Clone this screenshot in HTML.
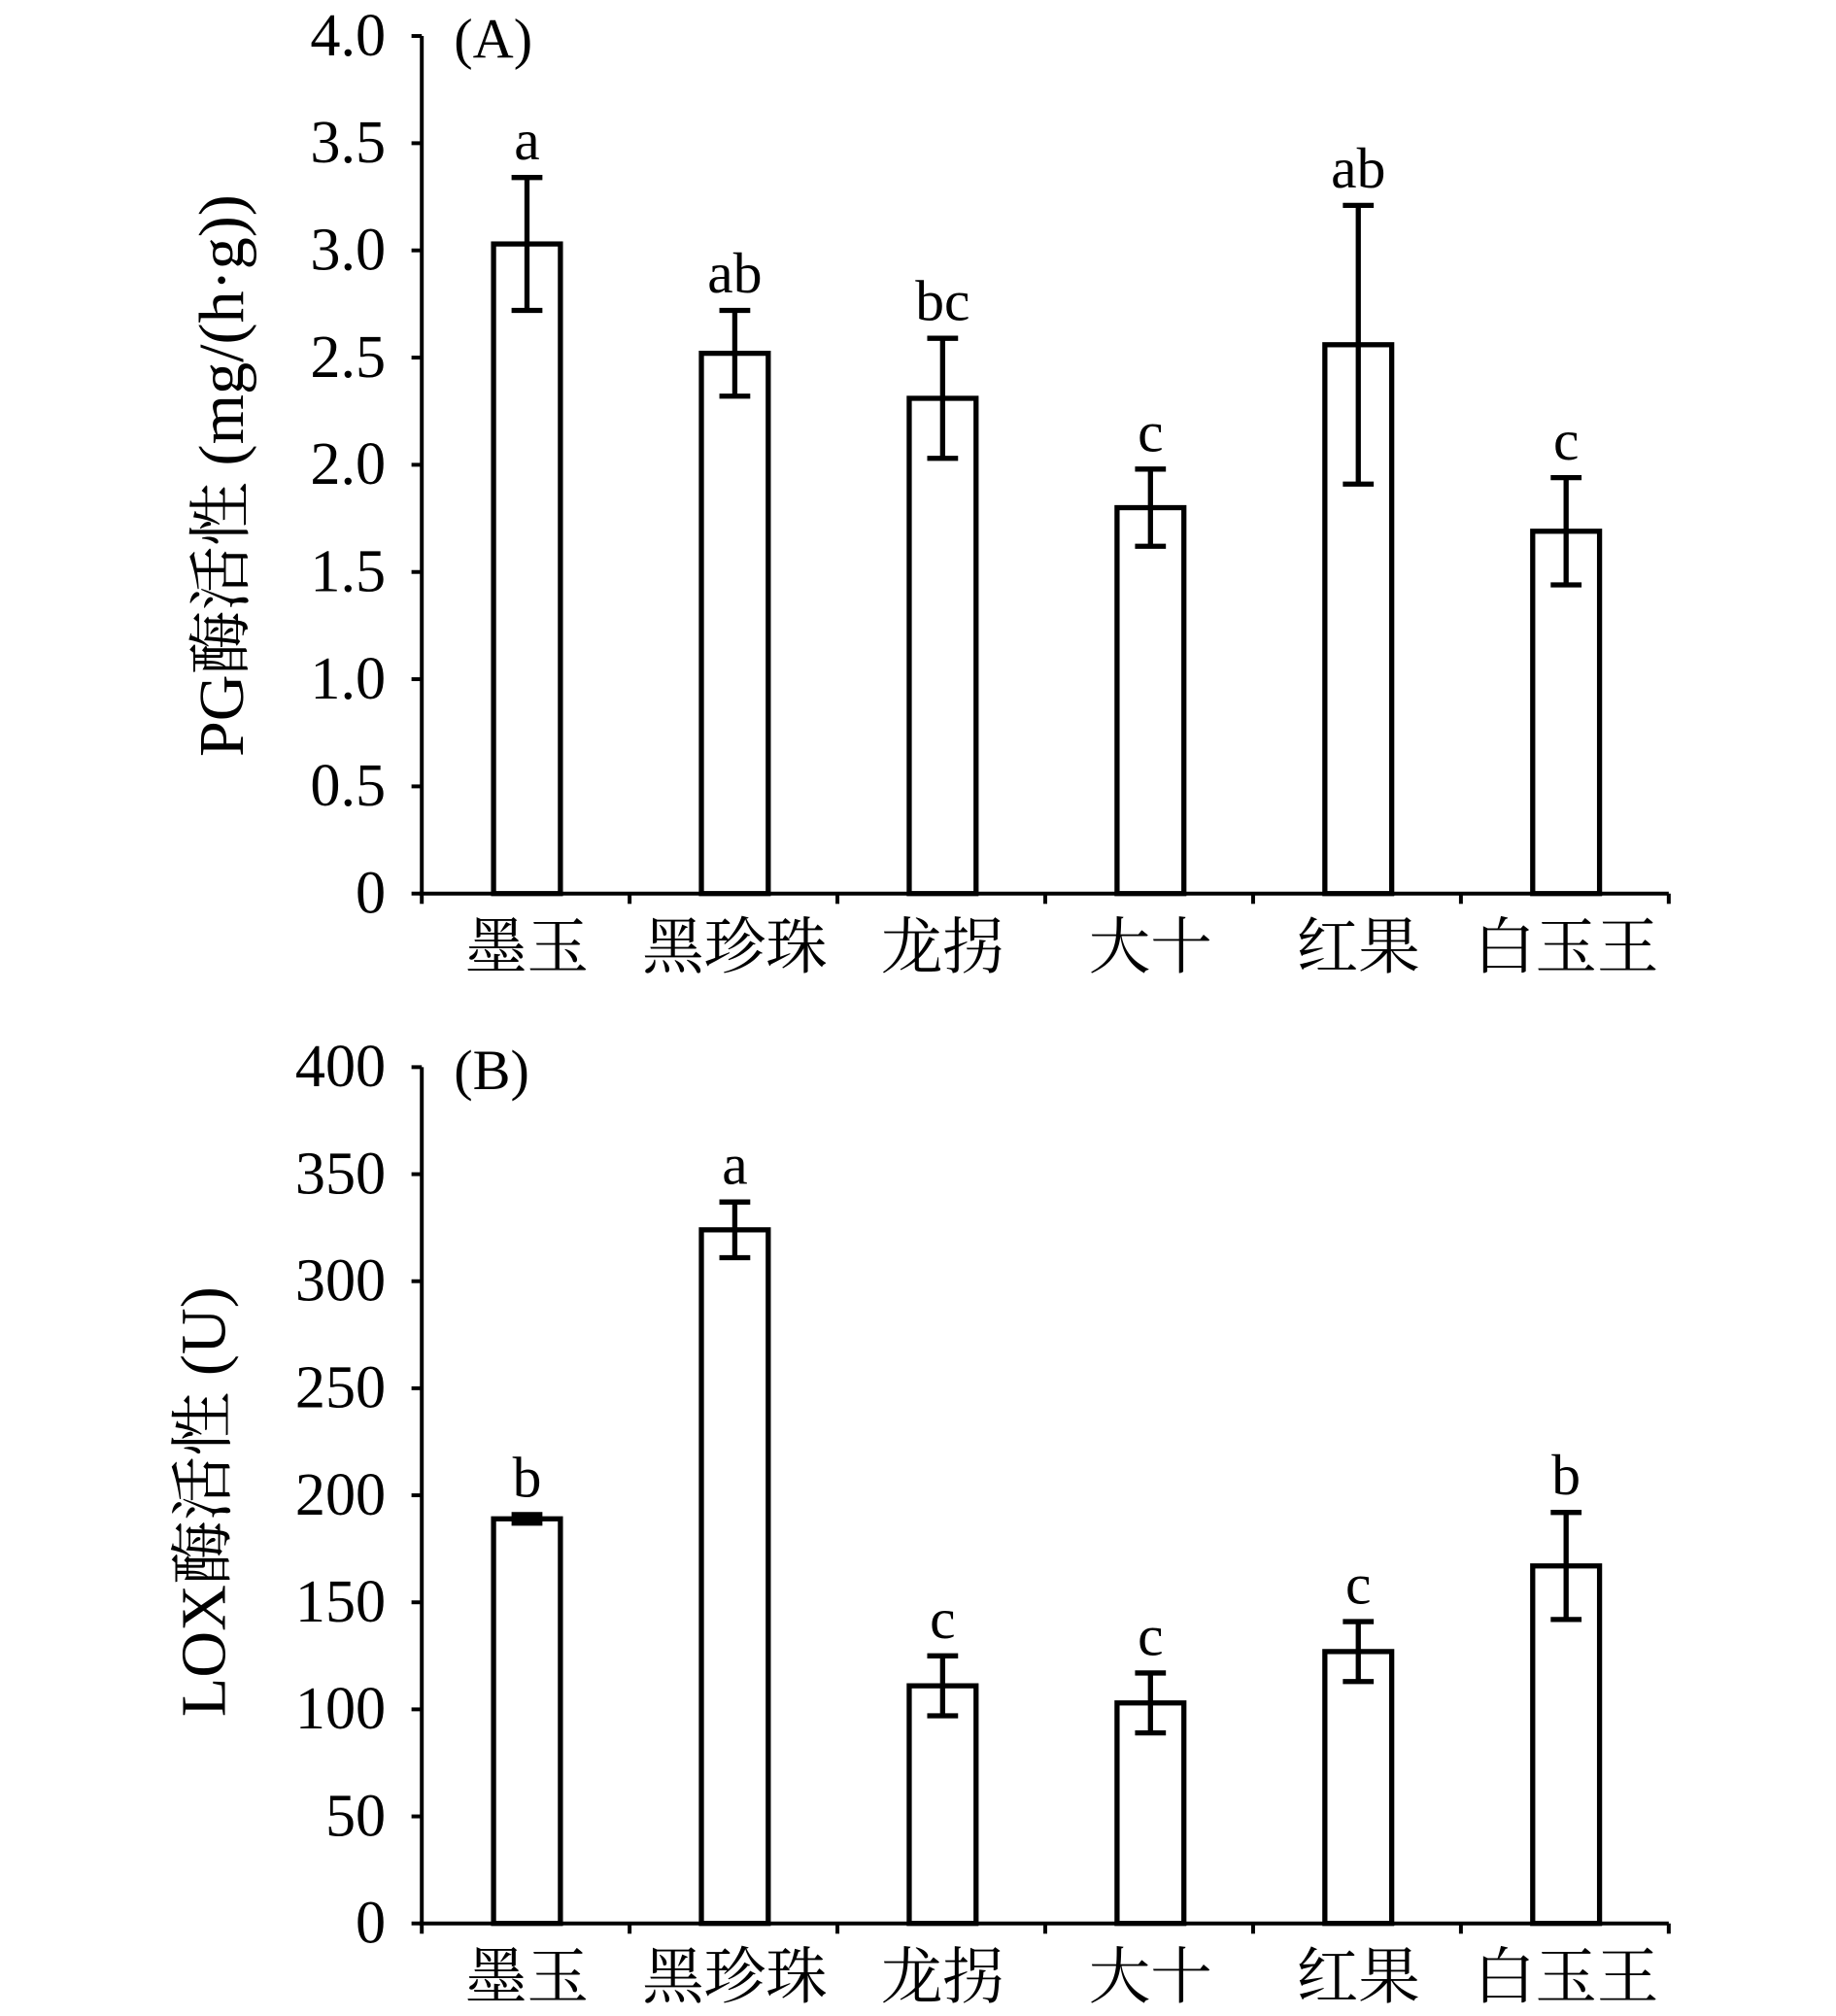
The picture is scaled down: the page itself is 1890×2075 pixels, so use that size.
<!DOCTYPE html>
<html><head><meta charset="utf-8"><style>
html,body{margin:0;padding:0;background:#fff;}
svg{display:block;}
text{font-family:"Liberation Serif","Noto Serif CJK SC",serif;fill:#000;}
</style></head><body>
<svg id="chart" width="1890" height="2075" viewBox="0 0 1428 1568" xmlns="http://www.w3.org/2000/svg"></svg>
<script>
const categories = ["墨玉","黑珍珠","龙拐","大十","红果","白玉王"];
const pgValues = [3.03, 2.52, 2.31, 1.80, 2.56, 1.69];
const pgErrors = [0.31, 0.20, 0.28, 0.18, 0.65, 0.25];
const pgLetters = ["a","ab","bc","c","ab","c"];
const pgTicks = [0,0.5,1.0,1.5,2.0,2.5,3.0,3.5,4.0];
const pgTickLabels = ["0","0.5","1.0","1.5","2.0","2.5","3.0","3.5","4.0"];
const loxValues = [189, 324, 111, 103, 127, 167];
const loxErrors = [2, 13, 14, 14, 14, 25];
const loxLetters = ["b","a","c","c","c","b"];
const loxTicks = [0,50,100,150,200,250,300,350,400];
const loxTickLabels = ["0","50","100","150","200","250","300","350","400"];

const NS="http://www.w3.org/2000/svg";
const svg=document.getElementById('chart');
function mk(tag,attrs,parent){const e=document.createElementNS(NS,tag);for(const k in attrs)e.setAttribute(k,attrs[k]);(parent||svg).appendChild(e);return e;}

function panel(cfg){
  const g=mk('g',{});
  
  
  const x0=328,x1=1298,y0=cfg.y0,yTop=cfg.yTop,max=cfg.max;
  const y=v=>y0-(v/max)*(y0-yTop);
  const band=(x1-x0)/categories.length;
  const xc=i=>x0+band*(i+0.5)+1;
  const ax=mk('line',{x1:x0,y1:yTop,x2:x0,y2:y0,stroke:'#000','stroke-width':3},g);
  
  
  const xa=mk('line',{x1:x0-2,y1:y0,x2:x1,y2:y0,stroke:'#000','stroke-width':3},g);
  
  
  cfg.ticks.forEach((t,i)=>{
    mk('line',{x1:x0-8,y1:y(t),x2:x0,y2:y(t),stroke:'#000','stroke-width':3},g);
    const tl=mk('text',{x:300,y:y(t)+15,'text-anchor':'end','font-size':47},g);
    tl.textContent=cfg.tickLabels[i];
    
    
  });
  for(let i=0;i<=categories.length;i++){
    mk('line',{x1:x0+band*i,y1:y0,x2:x0+band*i,y2:y0+8,stroke:'#000','stroke-width':3},g);
  }
  categories.forEach((c,i)=>{
    const v=cfg.values[i],e=cfg.errors[i],cx=xc(i);
    const b=mk('rect',{x:cx-26,y:y(v),width:52,height:y0-y(v),fill:'#fff',stroke:'#000','stroke-width':4},g);
    
    
    const eb=mk('path',{d:`M${cx},${y(v+e)}V${y(v-e)}M${cx-12},${y(v+e)}H${cx+12}M${cx-12},${y(v-e)}H${cx+12}`,stroke:'#000','stroke-width':4,fill:'none'},g);
    
    
    const lt=mk('text',{x:cx,y:y(v+e)-14,'text-anchor':'middle','font-size':45},g);
    lt.textContent=cfg.letters[i];
    
    
    const cl=mk('text',{x:cx,y:y0+58,'text-anchor':'middle','font-size':48},g);
    cl.textContent=c;
    
    
  });
  const pl=mk('text',{x:353,y:yTop+17,'font-size':44},g);
  pl.textContent=cfg.panelLabel;
  
  
  const yl=mk('text',{x:cfg.ylx,y:cfg.yly,'text-anchor':'middle','font-size':50,transform:`rotate(-90 ${cfg.ylx} ${cfg.yly})`},g);
  yl.textContent=cfg.ylabel;
  
  
}
panel({name:'panel-a-pg',y0:695,yTop:28,max:4,values:pgValues,errors:pgErrors,letters:pgLetters,ticks:pgTicks,tickLabels:pgTickLabels,panelLabel:'(A)',ylabel:'PG酶活性 (mg/(h·g))',ylx:189,yly:370});
panel({name:'panel-b-lox',y0:1496,yTop:830,max:400,values:loxValues,errors:loxErrors,letters:loxLetters,ticks:loxTicks,tickLabels:loxTickLabels,panelLabel:'(B)',ylabel:'LOX酶活性 (U)',ylx:175,yly:1168});
</script>
</body></html>
